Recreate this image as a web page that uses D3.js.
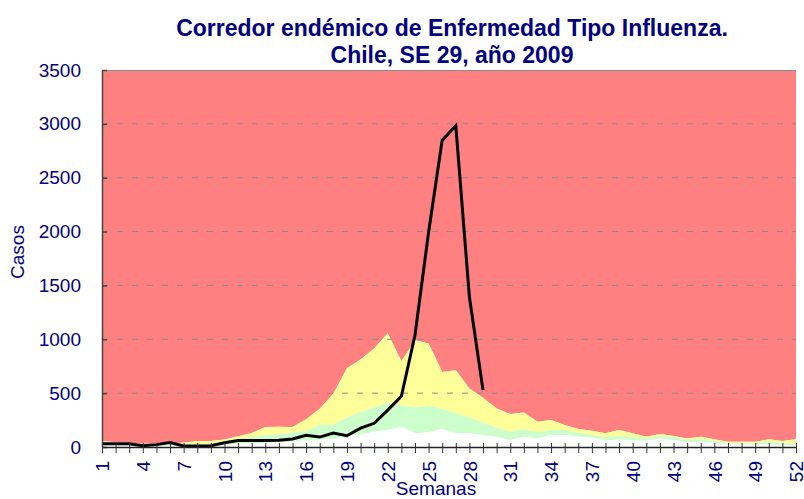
<!DOCTYPE html>
<html>
<head>
<meta charset="utf-8">
<script src="https://cdn.jsdelivr.net/npm/d3@7"></script>
<style>
  body { margin: 0; background: #fff; }
  svg { display: block; font-family: "Liberation Sans", Arial, sans-serif; }
</style>
</head>
<body>
<div id="chart"></div>
<script>
// Semanas epidemiológicas
const semanas = d3.range(1, 53);

// Límites del corredor endémico (casos por semana)
const zonaExito     = [15, 15, 15, 10, 10, 15, 10, 15, 15, 25, 30, 35, 40, 45, 50, 60, 70, 75, 102, 117, 142, 157, 188, 127, 136, 167, 127, 127, 111, 96, 65, 96, 80, 111, 111, 96, 88, 59, 71, 59, 59, 80, 65, 43, 49, 40, 28, 21, 21, 25, 15, 15];
const zonaSeguridad = [25, 25, 20, 15, 20, 25, 20, 25, 30, 55, 75, 90, 110, 115, 135, 145, 204, 204, 275, 322, 367, 410, 386, 367, 380, 358, 312, 275, 225, 179, 142, 164, 136, 157, 157, 132, 111, 90, 102, 90, 80, 102, 90, 65, 71, 56, 40, 34, 34, 49, 34, 28];
const zonaAlerta    = [55, 45, 40, 30, 30, 35, 40, 55, 55, 70, 100, 130, 185, 188, 185, 258, 355, 495, 730, 812, 914, 1055, 796, 991, 960, 697, 713, 543, 457, 358, 306, 321, 235, 250, 204, 167, 150, 127, 157, 127, 96, 120, 102, 80, 96, 71, 49, 49, 49, 71, 56, 71];

// Casos 2009, hasta la SE 29
const casos2009 = [30, 30, 30, 12, 22, 42, 10, 10, 12, 40, 60, 60, 60, 62, 75, 108, 92, 130, 105, 175, 220, 343, 470, 1037, 1994, 2849, 2982, 1392, 528];

const yTicks = [0, 500, 1000, 1500, 2000, 2500, 3000, 3500];
const yMax = 3500;

const width = 804;
const height = 499;
const marginLeft = 102;
const marginRight = 8;
const marginTop = 70;
const marginBottom = 52;
const navy = "#000080";

const svg = d3.select("#chart")
    .append("svg")
    .attr("width", width)
    .attr("height", height);

const x = d3.scaleLinear()
    .domain([1, 52])
    .range([marginLeft, width - marginRight]);

const y = d3.scaleLinear()
    .domain([0, yMax])
    .range([height - marginBottom, marginTop]);

// bands: white (bottom), green, yellow, red up to the top
const rows = semanas.map(function(w, i) {
    return { w: w, a: zonaExito[i], b: zonaSeguridad[i], c: zonaAlerta[i] };
});

const band = function(lo, hi) {
    return d3.area()
        .x(function(d) { return x(d.w); })
        .y0(function(d) { return y(lo(d)); })
        .y1(function(d) { return y(hi(d)); });
};

svg.append("path")
    .datum(rows)
    .attr("fill", "#ff8080")
    .attr("d", band(function(d) { return d.c; }, function() { return yMax; }));

svg.append("path")
    .datum(rows)
    .attr("fill", "#ffff99")
    .attr("d", band(function(d) { return d.b; }, function(d) { return d.c; }));

svg.append("path")
    .datum(rows)
    .attr("fill", "#ccffcc")
    .attr("d", band(function(d) { return d.a; }, function(d) { return d.b; }));

svg.append("path")
    .datum(rows)
    .attr("fill", "#ffffff")
    .attr("d", band(function() { return 0; }, function(d) { return d.a; }));

// dashed grid lines
svg.selectAll("line.grid")
    .data(yTicks.filter(function(d) { return d > 0 && d < yMax; }))
    .enter()
    .append("line")
    .attr("class", "grid")
    .attr("x1", marginLeft)
    .attr("x2", width - marginRight)
    .attr("y1", function(d) { return y(d); })
    .attr("y2", function(d) { return y(d); })
    .style("stroke", "#8c8c8c")
    .style("stroke-width", 1)
    .style("stroke-dasharray", "6,9");

// top border of the plot area
svg.append("line")
    .attr("x1", marginLeft)
    .attr("x2", width - marginRight)
    .attr("y1", marginTop + 0.5)
    .attr("y2", marginTop + 0.5)
    .style("stroke", "#8c8c8c");

// 2009 line
svg.append("path")
    .datum(casos2009)
    .attr("fill", "none")
    .attr("stroke", "#000")
    .attr("stroke-width", 3)
    .attr("stroke-linejoin", "miter")
    .attr("d", d3.line()
        .x(function(d, i) { return x(i + 1); })
        .y(function(d) { return y(d); }));

// y axis
const yAxis = svg.append("g")
    .attr("transform", "translate(" + marginLeft + ",0)")
    .call(d3.axisLeft(y)
        .tickValues(yTicks)
        .tickFormat(d3.format("d"))
        .tickSize(-5)
        .tickPadding(21)
        .tickSizeOuter(0));
yAxis.select(".domain").style("stroke", "#444").style("stroke-width", 1.5);
yAxis.selectAll(".tick line").style("stroke", "#444").style("stroke-width", 1.5);
yAxis.selectAll("text")
    .style("font-size", "19px")
    .style("fill", navy);

// x axis
const xAxis = svg.append("g")
    .attr("transform", "translate(0," + (height - marginBottom) + ")")
    .call(d3.axisBottom(x)
        .tickValues(semanas)
        .tickSize(6)
        .tickSizeOuter(0)
        .tickFormat(function(d) { return (d - 1) % 3 === 0 ? d : ""; }));
xAxis.select(".domain").style("stroke", "#222").style("stroke-width", 1.5);
xAxis.selectAll(".tick line").attr("y1", -4).style("stroke", "#333");
xAxis.selectAll("text")
    .attr("transform", "rotate(-90)")
    .attr("text-anchor", "end")
    .attr("x", -14)
    .attr("y", 0)
    .attr("dy", "0.35em")
    .style("font-size", "19px")
    .style("fill", navy);

// axis titles
svg.append("text")
    .attr("transform", "translate(24,252) rotate(-90)")
    .attr("text-anchor", "middle")
    .style("font-size", "19px")
    .style("fill", navy)
    .text("Casos");

svg.append("text")
    .attr("x", 436)
    .attr("y", 495)
    .attr("text-anchor", "middle")
    .style("font-size", "19px")
    .style("fill", navy)
    .text("Semanas");

// title
const title = svg.append("text")
    .attr("text-anchor", "middle")
    .style("font-size", "23px")
    .style("font-weight", "bold")
    .style("fill", navy);
title.append("tspan").attr("x", 452).attr("y", 36).text("Corredor endémico de Enfermedad Tipo Influenza.");
title.append("tspan").attr("x", 452).attr("y", 63).text("Chile, SE 29, año 2009");
</script>
</body>
</html>
